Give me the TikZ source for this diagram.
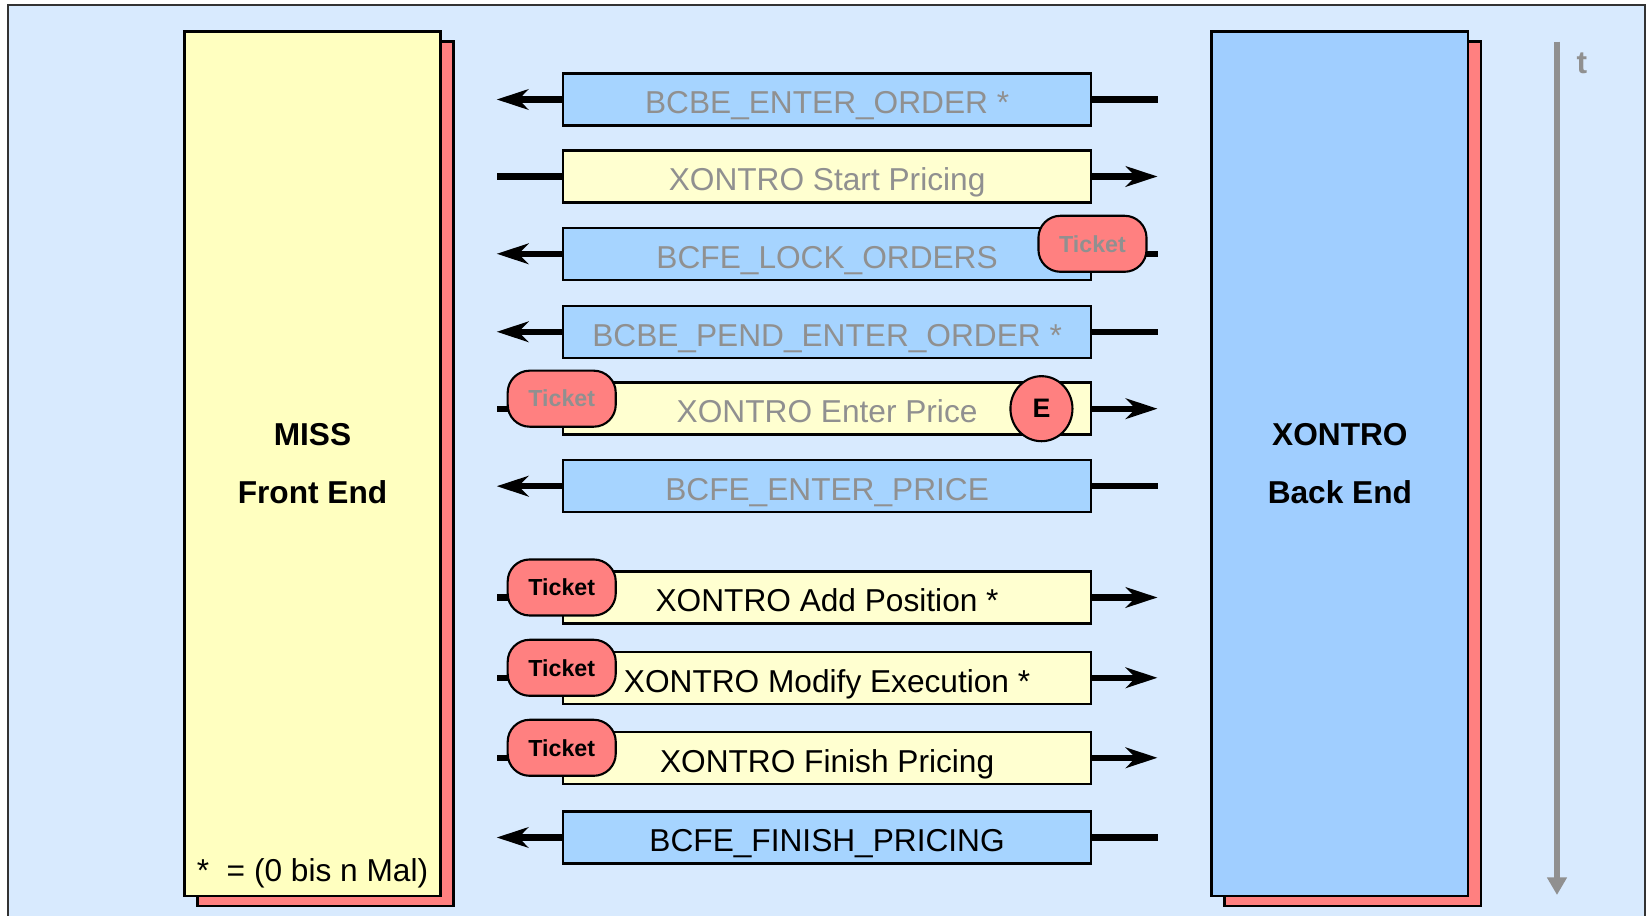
\documentclass[tikz,border=0pt]{standalone}
\usepackage{fontspec}
\setmainfont{Liberation Sans}
\usetikzlibrary{shapes.geometric, arrows.meta, positioning, calc, shadows}
\definecolor{framebg}{RGB}{216,234,254}
\definecolor{feyellow}{RGB}{255,255,192}
\definecolor{msgyellow}{RGB}{255,255,208}
\definecolor{beblue}{RGB}{160,206,255}
\definecolor{msgblue}{RGB}{166,212,255}
\definecolor{ticketred}{RGB}{255,128,128}
\definecolor{greytext}{RGB}{144,144,144}
\tikzset{
  sysbox/.style={rectangle, draw=black, line width=0.8pt, minimum width=2.56cm,
                 minimum height=8.64cm, align=center,
                 font=\fontsize{9}{16.5}\selectfont\bfseries,
                 drop shadow={shadow xshift=0.13cm, shadow yshift=-0.1cm,
                              fill=ticketred, draw=black, line width=0.8pt, opacity=1}},
  msgbox/.style={rectangle, draw=black, line width=0.7pt, minimum width=5.28cm,
                 minimum height=0.52cm, inner sep=0pt,
                 font=\fontsize{9}{11}\selectfont, text height=8.1pt, text depth=0pt},
  ticket/.style={rectangle, rounded corners=0.22cm, draw=black, line width=0.6pt,
                 fill=ticketred, minimum width=1.08cm, minimum height=0.56cm,
                 inner sep=0pt, font=\fontsize{6.6}{7}\selectfont\bfseries},
  evt/.style={ellipse, draw=black, line width=0.6pt, fill=ticketred,
              minimum width=0.62cm, minimum height=0.65cm, inner sep=0pt,
              font=\fontsize{7.6}{8}\selectfont\bfseries},
  msgline/.style={line width=1.8pt},
  msgarrow/.style={-{Stealth[length=9pt, width=5.8pt, inset=2.8pt]}, line width=1.8pt},
}

\begin{document}
\begin{tikzpicture}[x=0.01cm, y=-0.01cm, node distance=0.3cm and 7.68cm]
  \useasboundingbox (0,0) rectangle (1650,916);
  \fill[white] (0,0) rectangle (1650,916);
  % frame
  \fill[framebg] (8,5) rectangle (1645,916);
  \draw[line width=0.6pt, black!80] (8,916) -- (8,5) -- (1645,5) -- (1645,916);

  \node[sysbox, fill=feyellow] (miss) at (312.5,463.8) {MISS\\Front End};
  \node[sysbox, fill=beblue, right=of miss] (xontro) {XONTRO\\Back End};
  \node[anchor=base, font=\fontsize{9}{11}\selectfont] (note)
    at ($(miss.south)+(0,-16)$) {*~ = (0 bis n Mal)};

  % time axis
  \coordinate (t0) at (1557,41.7);
  \coordinate (t1) at (1557,895);
  \draw[-{Triangle[length=5pt, width=5.4pt]}, line width=1.7pt, greytext] (t0) -- (t1);
  \node[font=\fontsize{9}{11}\selectfont\bfseries, text=greytext] (tlabel) at (1582,63) {t};

  % line ends
  \coordinate (fe) at (496.7,0);
  \coordinate (be) at (1157.5,0);

  % XONTRO -> MISS
  \foreach \i/\y/\msg/\col in {1/99.5/BCBE\_ENTER\_ORDER */greytext,
      3/253.8/BCFE\_LOCK\_ORDERS/greytext, 4/331.8/BCBE\_PEND\_ENTER\_ORDER */greytext,
      6/486.2/BCFE\_ENTER\_PRICE/greytext, 10/837.5/BCFE\_FINISH\_PRICING/black}{
    \node[msgbox, fill=msgblue, text=\col] (m\i) at (827.1,\y) {\msg};
    \draw[msgline] (m\i.east) -- (be |- m\i.east);
    \draw[msgarrow] (m\i.west) -- (fe |- m\i.west);
  }
  % MISS -> XONTRO
  \foreach \i/\y/\msg/\col in {2/176.5/XONTRO Start Pricing/greytext,
      5/408.7/XONTRO Enter Price/greytext, 7/597.5/XONTRO Add Position */black,
      8/677.8/XONTRO Modify Execution */black, 9/757.8/XONTRO Finish Pricing/black}{
    \node[msgbox, fill=msgyellow, text=\col] (m\i) at (827.1,\y) {\msg};
    \draw[msgline] (m\i.west) -- (fe |- m\i.west);
    \draw[msgarrow] (m\i.east) -- (be |- m\i.east);
  }

  % tickets
  \node[ticket, text=greytext, yshift=1mm] (tk3) at (m3.east) {Ticket};
  \foreach \i/\col in {5/greytext, 7/black, 8/black, 9/black}{
    \node[ticket, text=\col, yshift=1mm] (tk\i) at (m\i.west) {Ticket};
  }
  \node[evt, xshift=-0.51cm] (e5) at (m5.east) {E};
\end{tikzpicture}
\end{document}
